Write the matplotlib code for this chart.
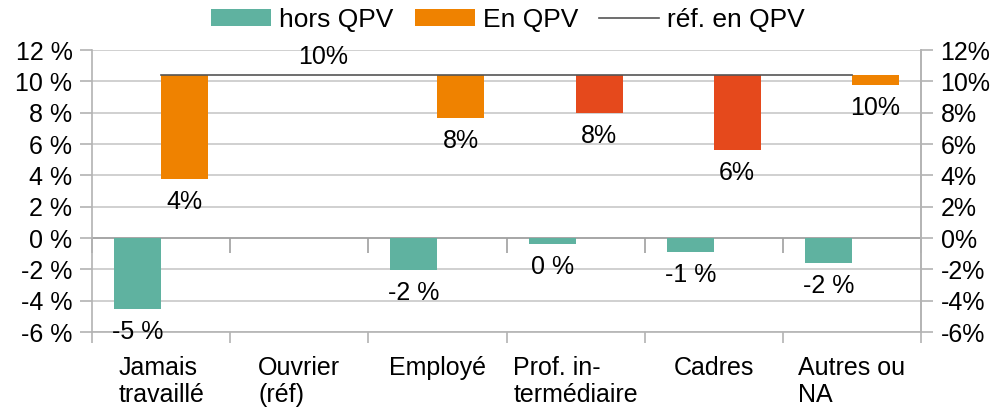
import numpy as np
import matplotlib
matplotlib.use("Agg")
import matplotlib.pyplot as plt
from matplotlib.ticker import FixedLocator, FuncFormatter

plt.rcParams['font.family'] = ['Liberation Sans', 'DejaVu Sans']
plt.rcParams['font.size'] = 18

# data (percent)
categories = ["Jamais\ntravaillé", "Ouvrier\n(réf)", "Employé",
              "Prof. in-\ntermédiaire", "Cadres", "Autres ou\nNA"]
hors_qpv = [-4.53, np.nan, -2.02, -0.36, -0.89, -1.58]
en_qpv = [3.75, 10.4, 7.68, 8.0, 5.64, 9.79]
ref_qpv = 10.4
y_ticks = [-6, -4, -2, 0, 2, 4, 6, 8, 10, 12]

# colours
green = '#5fb2a0'
orange = '#ef8200'
red = '#e5491c'
en_colors = [orange, orange, orange, red, red, orange]
grid_col = '#c8c8c8'
spine_col = '#b3b3b3'

fig = plt.figure(figsize=(10.06, 4.11), dpi=100)
ax = fig.add_axes([0.0915, 0.192, 0.824, 0.686])

x = np.arange(len(categories))
w = 0.34

ax.bar(x - w / 2, np.nan_to_num(hors_qpv), width=w, color=green, zorder=2, label='hors QPV')
en_heights = [ref_qpv - v for v in en_qpv]
ax.bar(x + w / 2, en_heights, bottom=en_qpv, width=w, color=en_colors, zorder=2, label='En QPV')
ax.plot(x, [ref_qpv] * len(x), color='#555555', lw=1.2, zorder=3, label='réf. en QPV')

ax.axhline(0, color='#a0a0a0', lw=1.2, zorder=1)
bounds = np.arange(len(categories) + 1) - 0.5
ax.plot(bounds, np.zeros(len(bounds)), ls='', marker=3, ms=11, mew=1.2,
        color='#a0a0a0', zorder=1, clip_on=False)

# data labels
for xi, v in zip(x, hors_qpv):
    if np.isnan(v):
        continue
    r = int(round(v))
    ax.annotate(f"{r} %", (xi - w / 2, v), xytext=(0, -16.5), textcoords='offset points',
                ha='center', va='center')
for xi, v in zip(x, en_qpv):
    txt = f"{int(round(v))}%"
    if ref_qpv - v < 0.05:
        ax.annotate(txt, (xi + w / 2, v), xytext=(0, 13), textcoords='offset points',
                    ha='center', va='center')
    else:
        ax.annotate(txt, (xi + w / 2, v), xytext=(0, -16.5), textcoords='offset points',
                    ha='center', va='center')

ax.set_xlim(-0.5, len(categories) - 0.5)
ax.set_ylim(-6, 12)
ax.set_yticks(y_ticks)
ax.yaxis.set_major_formatter(FuncFormatter(lambda v, p: f"{v:.0f} %"))
ax.yaxis.grid(True, color=grid_col, lw=1.2)
ax.set_axisbelow(True)

ax.xaxis.set_major_locator(FixedLocator(bounds))
ax.xaxis.set_minor_locator(FixedLocator(x))
ax.set_xticklabels([])
ax.set_xticklabels(categories, minor=True, ha='center', multialignment='left',
                   linespacing=1.15)
ax.tick_params(axis='x', which='major', length=8, color=spine_col, width=1.2)
ax.tick_params(axis='x', which='minor', length=0, pad=17)
ax.tick_params(axis='y', length=8.6, color=spine_col, width=1.2, pad=5.5)

for s in ['top']:
    ax.spines[s].set_visible(False)
for s in ['left', 'right', 'bottom']:
    ax.spines[s].set_color(spine_col)
    ax.spines[s].set_linewidth(1.2)

ax2 = ax.twinx()
ax2.set_ylim(-6, 12)
ax2.set_yticks(y_ticks)
ax2.yaxis.set_major_formatter(FuncFormatter(lambda v, p: f"{v:.0f}%"))
ax2.tick_params(axis='y', length=8.6, color=spine_col, width=1.2, pad=5.5)
for s in ['top', 'left', 'bottom']:
    ax2.spines[s].set_visible(False)
ax2.spines['right'].set_color(spine_col)
ax2.spines['right'].set_linewidth(1.2)

h, l = ax.get_legend_handles_labels()
order = [1, 2, 0]
fig.legend([h[i] for i in order], [l[i] for i in order], loc='center',
           bbox_to_anchor=(0.505, 0.952), ncol=3, frameon=False, fontsize=19,
           handlelength=2.27, handleheight=0.64, handletextpad=0.3, columnspacing=0.8)

fig.savefig("out.png", dpi=100)
